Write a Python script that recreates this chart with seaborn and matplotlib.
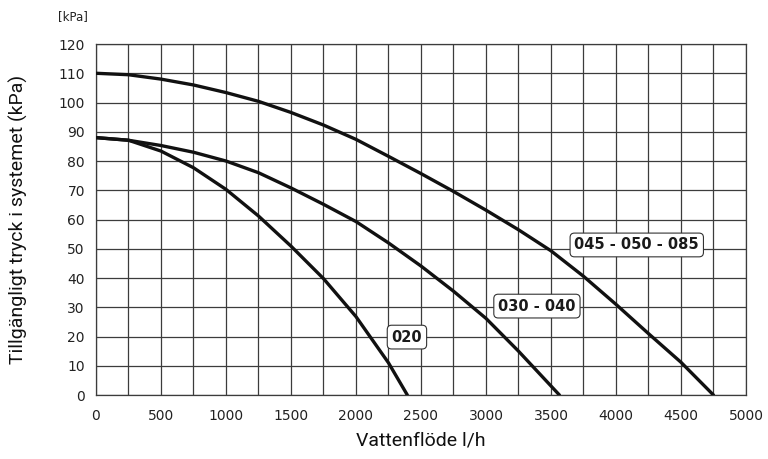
# Pumpkurvor: tillgängligt tryck mot vattenflöde
import pandas as pd
import matplotlib
matplotlib.use("Agg")
import matplotlib.pyplot as plt
import seaborn as sns

# Avlästa värden (l/h, kPa)
flode_020 = [0, 250, 500, 750, 1000, 1250, 1500, 1750, 2000, 2250, 2395]
tryck_020 = [88, 87.1, 83.4, 77.7, 70.3, 61.2, 50.9, 39.8, 26.8, 11, 0]

flode_030 = [0, 250, 500, 750, 1000, 1250, 1500, 1750, 2000, 2250, 2500, 2750, 3000, 3250, 3565]
tryck_030 = [88, 87.1, 85.3, 83, 80, 76, 70.8, 65.2, 59.3, 52, 44.1, 35.5, 26.2, 15, 0]

flode_045 = [0, 250, 500, 750, 1000, 1250, 1500, 1750, 2000, 2250, 2500, 2750, 3000, 3250,
             3500, 3750, 4000, 4250, 4500, 4750]
tryck_045 = [110, 109.5, 108, 106, 103.4, 100.4, 96.6, 92.3, 87.4, 81.6, 75.7, 69.6, 63.2, 56.5,
             49.3, 40.6, 31, 21, 11.2, 0]

etiketter = ["020", "030 - 040", "045 - 050 - 085"]
etikett_x = [2392, 3392, 4160]
etikett_y = [19.8, 30.4, 51.3]

x_ticks = list(range(0, 5001, 500))
y_ticks = list(range(0, 121, 10))

df = pd.concat([
    pd.DataFrame({"flode": flode_020, "tryck": tryck_020, "modell": etiketter[0]}),
    pd.DataFrame({"flode": flode_030, "tryck": tryck_030, "modell": etiketter[1]}),
    pd.DataFrame({"flode": flode_045, "tryck": tryck_045, "modell": etiketter[2]}),
])

sns.set_style("white")
plt.rcParams['font.family'] = ['DejaVu Sans']

fig = plt.figure(figsize=(7.68, 4.59), dpi=100)
ax = fig.add_axes([0.125, 0.1394, 0.8463, 0.7647])

gridfarg = "#3c3c3c"
ax.set_xticks(x_ticks)
ax.set_xticks(list(range(250, 5000, 500)), minor=True)
ax.set_yticks(y_ticks)
ax.grid(True, which="both", color=gridfarg, linewidth=0.9)
ax.set_axisbelow(True)

sns.lineplot(data=df, x="flode", y="tryck", units="modell", estimator=None,
             color="#111111", linewidth=2.4, sort=False, ax=ax, zorder=3)

ax.set_xlim(0, 5000)
ax.set_ylim(0, 120)

for sp in ax.spines.values():
    sp.set_color(gridfarg)
    sp.set_linewidth(0.9)

ax.tick_params(axis="both", which="both", direction="out", length=4, width=0.9,
               color=gridfarg, labelsize=10, labelcolor="#222222", pad=6)
ax.tick_params(axis="y", pad=4)

for txt, tx, ty in zip(etiketter, etikett_x, etikett_y):
    ax.text(tx, ty, txt, ha="center", va="center", fontsize=10.5, fontweight="bold",
            color="#1a1a1a", zorder=5,
            bbox=dict(boxstyle="round,pad=0.3,rounding_size=0.3", fc="white",
                      ec="#333333", lw=0.8))

lab_font = ['Roboto', 'DejaVu Sans']
ax.set_xlabel("Vattenflöde l/h", fontsize=14, family=lab_font, color="#111111", labelpad=6)
ax.set_ylabel("Tillgängligt tryck i systemet (kPa)", fontsize=14, family=lab_font,
              color="#111111", labelpad=22)

fig.text(73 / 768, 1 - 17 / 459, "[kPa]", ha="center", va="center", fontsize=8.5, color="#222222")

fig.savefig("out.png", dpi=100)
